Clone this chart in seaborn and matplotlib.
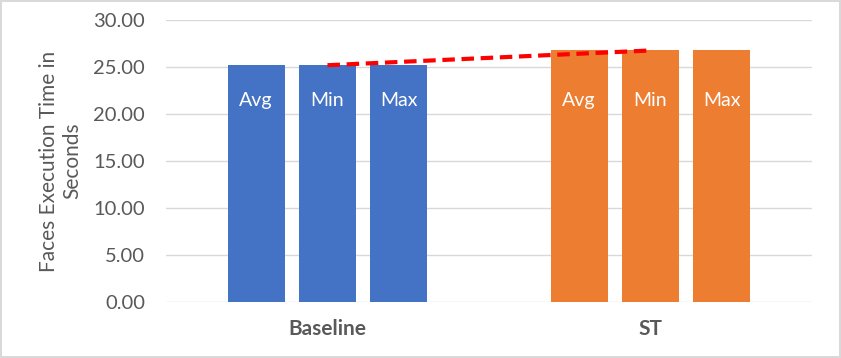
import pandas as pd
import numpy as np
import seaborn as sns
import matplotlib.pyplot as plt

groups = ['Baseline', 'ST']
stats = ['Avg', 'Min', 'Max']
baseline_vals = [25.22, 25.19, 25.25]
st_vals = [26.80, 26.76, 26.84]
group_colors = {'Baseline': '#4472C4', 'ST': '#ED7D31'}

df = pd.DataFrame({
    'group': [g for g in groups for _ in stats],
    'stat': stats * len(groups),
    'time': baseline_vals + st_vals,
})

sns.set_style('white')
plt.rcParams['font.family'] = ['Lato', 'DejaVu Sans']

fig = plt.figure(figsize=(8.41, 3.58), dpi=100)
fig.patch.set_edgecolor('#D9D9D9')
fig.patch.set_linewidth(1.5)
ax = fig.add_axes([0.1974, 0.1564, 0.768, 0.7877])

sns.barplot(data=df, x='group', y='time', hue='stat', hue_order=stats,
            order=groups, width=0.663, gap=0.2, ax=ax, legend=False,
            errorbar=None, saturation=1)

# colour bars by group, label them
for cont, st in zip(ax.containers, stats):
    for bar, g in zip(cont, groups):
        bar.set_facecolor(group_colors[g])
        bar.set_edgecolor('none')
        ax.text(bar.get_x() + bar.get_width() / 2, 21.4, st, color='white',
                ha='center', va='center', fontsize=14)

# linear trendline of the Min series
xs = np.arange(len(groups))
mins = df[df.stat == 'Min'].time.values
k, b = np.polyfit(xs, mins, 1)
ax.plot(xs, k * xs + b, color='#FF0000', linestyle=(0, (3, 1.6)), linewidth=3,
        zorder=5)

ax.set_xlim(-0.5, 1.5)
ax.set_ylim(0, 30)
ax.set_yticks(np.arange(0, 31, 5))
ax.set_yticklabels([f'{v:.2f}' for v in np.arange(0, 31, 5)])
ax.yaxis.grid(True, color='#D9D9D9', linewidth=1)
ax.set_axisbelow(True)
for s in ax.spines.values():
    s.set_visible(False)
ax.tick_params(axis='y', length=0, pad=15, labelsize=14.5, labelcolor='#595959')
ax.tick_params(axis='x', length=0, pad=12, labelsize=15, labelcolor='#595959')
for t in ax.get_xticklabels():
    t.set_fontweight('bold')
ax.set_xlabel('')
ax.set_ylabel('Faces Execution Time in\nSeconds', fontsize=15, color='#595959',
              labelpad=8)
ax.yaxis.label.set_multialignment('center')

fig.savefig('out.png', dpi=100)
